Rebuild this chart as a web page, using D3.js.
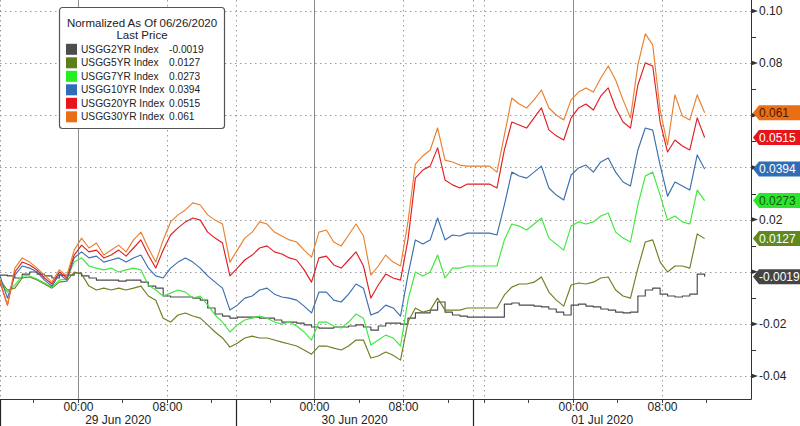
<!DOCTYPE html>
<html><head><meta charset="utf-8">
<script src="https://cdn.jsdelivr.net/npm/d3@7"></script>
<style>
html,body{margin:0;padding:0;background:#fff;}
svg{display:block;}
text{font-family:'Liberation Sans',Arial,sans-serif;}
</style></head><body>
<svg id="chart" width="800" height="426"></svg>
<script>
// ---------- data ----------
const seriesNames = ["USGG2YR Index","USGG5YR Index","USGG7YR Index","USGG10YR Index","USGG20YR Index","USGG30YR Index"];
const lastPrices = [-0.0019, 0.0127, 0.0273, 0.0394, 0.0515, 0.061];
const legendTitle = "Normalized As Of 06/26/2020";
const legendSubtitle = "Last Price";
const sessions = [["2020-06-28T17:00","2020-06-29T14:15"],["2020-06-29T17:00","2020-06-30T14:15"],["2020-06-30T15:00","2020-07-01T14:15"]];
const axisEnd = "2020-07-01T16:00";
const stepMinutes = 40;
const dayLabels = ["29 Jun 2020","30 Jun 2020","01 Jul 2020"];
const yTicks = [-0.04,-0.02,0,0.02,0.04,0.06,0.08,0.10];

const usgg2 = [-0.0013,-0.0016,-0.0024,-0.0009,-0.0001,-0.0009,-0.0016,-0.0024,-0.0013,-0.0013,
 -0.0005,-0.0016,-0.0024,-0.0032,-0.0032,-0.0032,-0.0036,-0.0032,-0.0032,-0.0040,
 -0.0055,-0.0063,-0.0093,-0.0097,-0.0097,-0.0097,-0.0101,-0.0109,-0.0139,-0.0162,
 -0.0170,-0.0178,-0.0174,-0.0174,-0.0174,-0.0178,-0.0178,-0.0185,-0.0193,-0.0193,
 -0.0197,-0.0204,-0.0212,-0.0216,-0.0216,-0.0212,-0.0212,-0.0208,-0.0204,-0.0212,
 -0.0224,-0.0208,-0.0197,-0.0197,-0.0201,-0.0178,-0.0158,-0.0158,-0.0147,-0.0116,
 -0.0155,-0.0166,-0.0170,-0.0174,-0.0174,-0.0174,-0.0174,-0.0174,-0.0124,-0.0120,
 -0.0128,-0.0128,-0.0132,-0.0135,-0.0143,-0.0155,-0.0166,-0.0128,-0.0124,-0.0132,
 -0.0135,-0.0143,-0.0147,-0.0155,-0.0158,-0.0155,-0.0093,-0.0070,-0.0063,-0.0086,
 -0.0093,-0.0097,-0.0093,-0.0086,-0.0009,-0.0019];
const usgg5 = [-0.0032,-0.0070,-0.0063,-0.0024,-0.0020,-0.0032,-0.0047,-0.0063,-0.0040,-0.0036,
 -0.0001,-0.0009,-0.0055,-0.0070,-0.0063,-0.0070,-0.0063,-0.0070,-0.0063,-0.0055,
 -0.0093,-0.0109,-0.0178,-0.0193,-0.0166,-0.0158,-0.0170,-0.0178,-0.0204,-0.0231,
 -0.0254,-0.0289,-0.0274,-0.0254,-0.0247,-0.0254,-0.0254,-0.0262,-0.0270,-0.0277,
 -0.0285,-0.0300,-0.0316,-0.0285,-0.0285,-0.0293,-0.0300,-0.0285,-0.0262,-0.0262,
 -0.0331,-0.0323,-0.0308,-0.0320,-0.0339,-0.0193,-0.0139,-0.0155,-0.0147,-0.0101,
 -0.0147,-0.0147,-0.0147,-0.0139,-0.0139,-0.0139,-0.0139,-0.0139,-0.0089,-0.0059,
 -0.0047,-0.0047,-0.0040,-0.0020,-0.0078,-0.0109,-0.0132,-0.0051,-0.0043,-0.0047,
 -0.0040,-0.0024,-0.0020,-0.0070,-0.0093,-0.0101,0.0014,0.0114,0.0122,0.0037,
 -0.0001,0.0022,0.0022,0.0014,0.0145,0.0127];
const usgg7 = [-0.0040,-0.0078,-0.0051,-0.0016,-0.0016,-0.0028,-0.0043,-0.0059,-0.0032,-0.0028,
 0.0037,0.0053,0.0022,0.0014,0.0007,0.0014,-0.0001,0.0007,0.0014,0.0007,
 -0.0051,-0.0070,-0.0093,-0.0082,-0.0070,-0.0078,-0.0101,-0.0093,-0.0128,-0.0166,
 -0.0193,-0.0231,-0.0204,-0.0185,-0.0178,-0.0170,-0.0178,-0.0193,-0.0201,-0.0193,
 -0.0208,-0.0231,-0.0262,-0.0193,-0.0193,-0.0208,-0.0216,-0.0193,-0.0162,-0.0178,
 -0.0281,-0.0262,-0.0243,-0.0254,-0.0285,-0.0109,-0.0001,-0.0016,-0.0001,0.0064,
 -0.0024,0.0014,0.0014,0.0022,0.0022,0.0022,0.0022,0.0022,0.0122,0.0183,
 0.0175,0.0160,0.0183,0.0206,0.0129,0.0106,0.0083,0.0175,0.0191,0.0183,
 0.0191,0.0214,0.0225,0.0152,0.0129,0.0114,0.0256,0.0367,0.0382,0.0294,
 0.0198,0.0214,0.0191,0.0183,0.0313,0.0273];
const usgg10 = [-0.0016,-0.0101,-0.0013,0.0022,0.0014,-0.0001,-0.0032,-0.0055,-0.0009,-0.0032,
 0.0053,0.0076,0.0053,0.0060,0.0037,0.0045,0.0053,0.0037,0.0053,0.0064,
 0.0014,-0.0016,-0.0024,0.0014,0.0037,0.0053,0.0037,0.0014,-0.0016,-0.0040,
 -0.0063,-0.0147,-0.0128,-0.0101,-0.0093,-0.0070,-0.0063,-0.0086,-0.0097,-0.0101,
 -0.0109,-0.0132,-0.0158,-0.0078,-0.0078,-0.0109,-0.0116,-0.0086,-0.0047,-0.0063,
 -0.0166,-0.0155,-0.0128,-0.0139,-0.0170,-0.0013,0.0122,0.0106,0.0122,0.0206,
 0.0122,0.0141,0.0137,0.0148,0.0148,0.0148,0.0148,0.0141,0.0256,0.0382,
 0.0367,0.0359,0.0382,0.0405,0.0321,0.0294,0.0275,0.0371,0.0398,0.0409,
 0.0382,0.0421,0.0436,0.0382,0.0344,0.0329,0.0467,0.0551,0.0543,0.0409,
 0.0290,0.0344,0.0329,0.0313,0.0448,0.0394];
const usgg20 = [-0.0040,-0.0128,-0.0001,0.0037,0.0026,0.0007,-0.0024,-0.0047,-0.0001,-0.0024,
 0.0064,0.0102,0.0076,0.0083,0.0053,0.0064,0.0083,0.0060,0.0091,0.0122,
 0.0064,0.0014,0.0083,0.0141,0.0168,0.0191,0.0206,0.0198,0.0152,0.0129,
 0.0110,-0.0016,0.0014,0.0045,0.0064,0.0091,0.0099,0.0076,0.0068,0.0053,
 0.0045,0.0007,-0.0040,0.0053,0.0060,0.0026,0.0014,0.0045,0.0076,0.0022,
 -0.0101,-0.0051,-0.0009,-0.0024,-0.0032,0.0122,0.0359,0.0390,0.0405,0.0475,
 0.0352,0.0333,0.0321,0.0336,0.0336,0.0336,0.0336,0.0321,0.0467,0.0574,
 0.0563,0.0551,0.0590,0.0628,0.0544,0.0521,0.0505,0.0590,0.0628,0.0643,
 0.0620,0.0674,0.0705,0.0628,0.0574,0.0551,0.0716,0.0801,0.0789,0.0574,
 0.0459,0.0505,0.0482,0.0467,0.0590,0.0515];
const usgg30 = [-0.0032,-0.0128,0.0014,0.0053,0.0037,0.0014,-0.0013,-0.0040,0.0007,-0.0016,
 0.0083,0.0129,0.0091,0.0110,0.0064,0.0083,0.0102,0.0076,0.0122,0.0152,
 0.0091,0.0037,0.0122,0.0191,0.0218,0.0237,0.0264,0.0256,0.0218,0.0198,
 0.0183,0.0037,0.0083,0.0129,0.0152,0.0191,0.0183,0.0152,0.0137,0.0122,
 0.0114,0.0083,0.0056,0.0152,0.0160,0.0114,0.0099,0.0141,0.0183,0.0137,
 -0.0013,0.0022,0.0064,0.0037,0.0022,0.0191,0.0413,0.0444,0.0467,0.0551,
 0.0428,0.0421,0.0409,0.0405,0.0405,0.0405,0.0405,0.0382,0.0524,0.0666,
 0.0643,0.0628,0.0659,0.0697,0.0628,0.0601,0.0582,0.0659,0.0689,0.0705,
 0.0689,0.0743,0.0789,0.0735,0.0659,0.0590,0.0793,0.0912,0.0870,0.0620,
 0.0486,0.0678,0.0597,0.0582,0.0678,0.0610];

// ---------- styles ----------
const lineColors = ["#4a4a4a","#6f7f22","#3ee83e","#3a6fae","#e01e24","#e8802e"];
const stepSeries = [true, false, false, false, false, false];
const tagColors  = ["#444444","#5f8a1f","#2ce62c","#2f6db5","#e8141c","#ea6e14"];
const tagTextColors = ["#ffffff","#ffffff","#145214","#ffffff","#ffffff","#4a1800"];
const swatchColors = ["#4d4d4d","#5e7e1e","#22ee22","#2f6db5","#e8141c","#ea6e14"];

// ---------- layout ----------
const W = 800, H = 426, plotR = 751, plotB = 399;
const svg = d3.select("#chart");
const seriesData = [usgg2, usgg5, usgg7, usgg10, usgg20, usgg30];

const parseT = s => new Date(s + ":00Z");
const sess = sessions.map(([a, b]) => [parseT(a), parseT(b)]);
const endT = parseT(axisEnd);
const lastClose = sess[sess.length - 1][1];
function tradingMinutes(t) {
  let m = 0;
  for (const [a, b] of sess) if (t > a) m += (Math.min(t, b) - a);
  if (t > lastClose) m += (Math.min(t, endT) - lastClose);
  return m / 60000;
}
function inTrading(t) {
  return sess.some(([a, b]) => t >= a && t <= b) || (t > lastClose && t <= endT);
}

const x = d3.scaleLinear().domain([0, tradingMinutes(endT)]).range([0, plotR]);
const y = d3.scaleLinear().domain([-0.0488, 0.1042]).range([plotB, 0]);
const fmt = v => d3.format(".2f")(v).replace("\u2212", "-");

svg.append("defs").append("clipPath").attr("id", "plotclip")
  .append("rect").attr("x", 0).attr("y", 0).attr("width", plotR).attr("height", plotB);

// horizontal grid
svg.append("g").selectAll("line").data(yTicks).join("line")
  .attr("x1", 0).attr("x2", plotR)
  .attr("y1", d => Math.round(y(d)) + 0.5).attr("y2", d => Math.round(y(d)) + 0.5)
  .attr("stroke", "#9a9a9a").attr("stroke-width", 1).attr("stroke-dasharray", "1.5,3.5");

// time ticks & vertical grid
const hourTicks = d3.utcHour.every(4).range(sess[0][0], new Date(+endT + 1)).filter(inTrading);
const vg = svg.append("g");
hourTicks.forEach(t => {
  const px = Math.round(x(tradingMinutes(t))) + 0.5;
  if (px >= plotR - 1) return;
  const h = t.getUTCHours();
  if (h === 0) {
    vg.append("line").attr("x1", px).attr("x2", px).attr("y1", 0).attr("y2", plotB)
      .attr("stroke", "#8a8a8a").attr("stroke-width", 1);
  } else if (h === 8 || h === 16) {
    vg.append("line").attr("x1", px).attr("x2", px).attr("y1", 0).attr("y2", plotB)
      .attr("stroke", "#9a9a9a").attr("stroke-width", 1).attr("stroke-dasharray", "1.5,3.5");
  }
  vg.append("line").attr("x1", px).attr("x2", px).attr("y1", plotB).attr("y2", plotB + 4)
    .attr("stroke", "#444");
  if (h === 0 || h === 8) {
    vg.append("text").attr("x", px).attr("y", plotB + 12).attr("text-anchor", "middle")
      .attr("font-size", 12).attr("fill", "#222").text(d3.utcFormat("%H:%M")(t));
  }
});
sess.forEach(([a, b], i) => {
  const px = Math.round(x(tradingMinutes(a))) + 0.5;
  vg.append("line").attr("x1", px).attr("x2", px).attr("y1", 0).attr("y2", plotB)
    .attr("stroke", "#9a9a9a").attr("stroke-dasharray", "1.5,3.5");
  vg.append("line").attr("x1", px).attr("x2", px).attr("y1", plotB).attr("y2", H)
    .attr("stroke", "#222").attr("stroke-width", 1.2);
  const cx = (x(tradingMinutes(a)) + x(tradingMinutes(b))) / 2;
  vg.append("text").attr("x", cx).attr("y", H - 2).attr("text-anchor", "middle")
    .attr("font-size", 12).attr("fill", "#222").text(dayLabels[i]);
});

// axis lines
svg.append("line").attr("x1", 0).attr("x2", plotR + 0.5).attr("y1", plotB + 0.5).attr("y2", plotB + 0.5)
  .attr("stroke", "#333").attr("stroke-width", 1);
svg.append("line").attr("x1", plotR + 0.5).attr("x2", plotR + 0.5).attr("y1", 0).attr("y2", plotB + 0.5)
  .attr("stroke", "#333").attr("stroke-width", 1);

// right axis ticks & labels (labels hidden behind value tags are not drawn)
const minorTicks = y.ticks(16).filter(t => !yTicks.some(m => Math.abs(m - t) < 1e-9));
svg.append("g").selectAll("line").data(minorTicks).join("line")
  .attr("x1", plotR).attr("x2", plotR + 5)
  .attr("y1", d => Math.round(y(d)) + 0.5).attr("y2", d => Math.round(y(d)) + 0.5)
  .attr("stroke", "#333");
const ya = svg.append("g");
yTicks.forEach(t => {
  const py = y(t);
  ya.append("path").attr("d", `M${plotR},${py - 2.5}L${plotR + 7},${py}L${plotR},${py + 2.5}Z`).attr("fill", "#333");
  const covered = lastPrices.some(v => Math.abs(y(v) - py) < 12);
  if (!covered) {
    ya.append("text").attr("x", plotR + 8).attr("y", py).attr("dy", "0.36em")
      .attr("font-size", 12).attr("fill", "#222").text(fmt(t));
  }
});

// series lines
const lg = svg.append("g").attr("clip-path", "url(#plotclip)");
seriesData.forEach((s, k) => {
  const line = d3.line().x((d, i) => x(i * stepMinutes)).y(d => y(d))
    .curve(stepSeries[k] ? d3.curveStepAfter : d3.curveLinear);
  lg.append("path").datum(s).attr("d", line).attr("fill", "none")
    .attr("stroke", lineColors[k]).attr("stroke-width", 1.15).attr("stroke-linejoin", "round");
});

// value tags
lastPrices.forEach((v, k) => {
  const py = y(v);
  const g = svg.append("g");
  g.append("path").attr("d", `M${plotR + 2},${py}L${plotR + 8},${py - 7.5}L${W},${py - 7.5}L${W},${py + 7.5}L${plotR + 8},${py + 7.5}Z`)
    .attr("fill", tagColors[k]);
  g.append("text").attr("x", plotR + 8).attr("y", py).attr("dy", "0.36em")
    .attr("font-size", 12).attr("fill", tagTextColors[k]).text(String(v));
});

// legend
const leg = svg.append("g");
leg.append("rect").attr("x", 59.5).attr("y", 7.5).attr("width", 165).attr("height", 121).attr("rx", 3)
  .attr("fill", "#fff").attr("stroke", "#555").attr("stroke-width", 1.2);
leg.append("text").attr("x", 142).attr("y", 27).attr("text-anchor", "middle").attr("font-size", 11.5)
  .attr("fill", "#222").text(legendTitle);
leg.append("text").attr("x", 142).attr("y", 39).attr("text-anchor", "middle").attr("font-size", 11.5)
  .attr("fill", "#222").text(legendSubtitle);
seriesNames.forEach((n, k) => {
  const cy = 49.3 + k * 13.5;
  leg.append("rect").attr("x", 66).attr("y", cy - 5.5).attr("width", 11).attr("height", 11).attr("fill", swatchColors[k]);
  leg.append("text").attr("x", 81).attr("y", cy).attr("dy", "0.36em").attr("font-size", 10.2)
    .attr("fill", "#222").text(n);
  leg.append("text").attr("x", 169).attr("y", cy).attr("dy", "0.36em").attr("font-size", 10.2)
    .attr("fill", "#222").text(String(lastPrices[k]));
});
</script>
</body></html>
